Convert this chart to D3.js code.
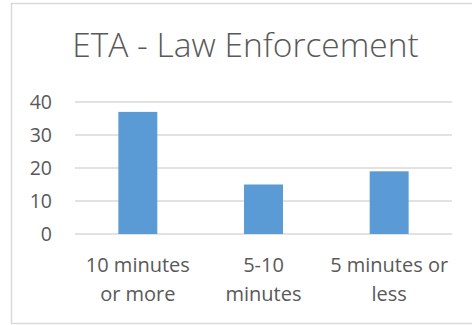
<!DOCTYPE html>
<html>
<head>
<meta charset="utf-8">
<script src="https://cdn.jsdelivr.net/npm/d3@7"></script>
<style>
  html, body { margin: 0; padding: 0; background: #fff; }
  svg { display: block; }
  text { font-family: "Open Sans", "Noto Sans", sans-serif; fill: #595959; }
</style>
</head>
<body>
<svg id="chart" width="472" height="325"></svg>
<script>
// Response time categories and counts
const categories = ["10 minutes or more", "5-10 minutes", "5 minutes or less"];
const categoryLines = [["10 minutes", "or more"], ["5-10", "minutes"], ["5 minutes or", "less"]];
const counts = [37, 15, 19];
const yTicks = [0, 10, 20, 30, 40];
const title = "ETA - Law Enforcement";

const W = 472, H = 325;
const margin = { left: 75, right: 20, top: 102, bottom: 91 };
const svg = d3.select("#chart");

// chart frame
svg.append("rect")
  .attr("x", 11.5).attr("y", 3.5)
  .attr("width", 470).attr("height", 320)
  .attr("fill", "none").attr("stroke", "#d9d9d9").attr("stroke-width", 1.5);

const x = d3.scaleBand()
  .domain(categories)
  .range([margin.left, W - margin.right])
  .paddingInner(0.69).paddingOuter(0.345);

const y = d3.scaleLinear()
  .domain([0, 40])
  .range([H - margin.bottom, margin.top]);

// gridlines
svg.append("g")
  .selectAll("line")
  .data(yTicks)
  .join("line")
  .attr("x1", margin.left).attr("x2", W - margin.right)
  .attr("y1", d => y(d)).attr("y2", d => y(d))
  .attr("stroke", "#d9d9d9").attr("stroke-width", 1.3);

// y axis labels
const yAxis = svg.append("g")
  .attr("transform", `translate(${margin.left - 23},0)`)
  .call(d3.axisLeft(y).tickValues(yTicks).tickSize(0).tickPadding(0));
yAxis.select(".domain").remove();
yAxis.selectAll("text")
  .attr("font-size", 19.5)
  .style("font-family", '"Open Sans", "Noto Sans", sans-serif')
  .attr("fill", "#595959");

// bars
svg.append("g")
  .selectAll("rect")
  .data(counts)
  .join("rect")
  .attr("x", (d, i) => x(categories[i]))
  .attr("width", x.bandwidth())
  .attr("y", d => y(d))
  .attr("height", d => y(0) - y(d))
  .attr("fill", "#5b9bd5");

// category labels, two lines each
const xLabels = svg.append("g")
  .selectAll("text")
  .data(categories)
  .join("text")
  .attr("text-anchor", "middle")
  .attr("font-size", 20);
xLabels.each(function(c, i) {
  const t = d3.select(this);
  categoryLines[i].forEach((line, j) => {
    t.append("tspan")
      .attr("x", x(c) + x.bandwidth() / 2)
      .attr("y", 272 + j * 29)
      .text(line);
  });
});

// title
svg.append("text")
  .attr("x", 245.5).attr("y", 57)
  .attr("text-anchor", "middle")
  .attr("font-size", 33.5)
  .attr("font-weight", 300)
  .text(title);
</script>
</body>
</html>
